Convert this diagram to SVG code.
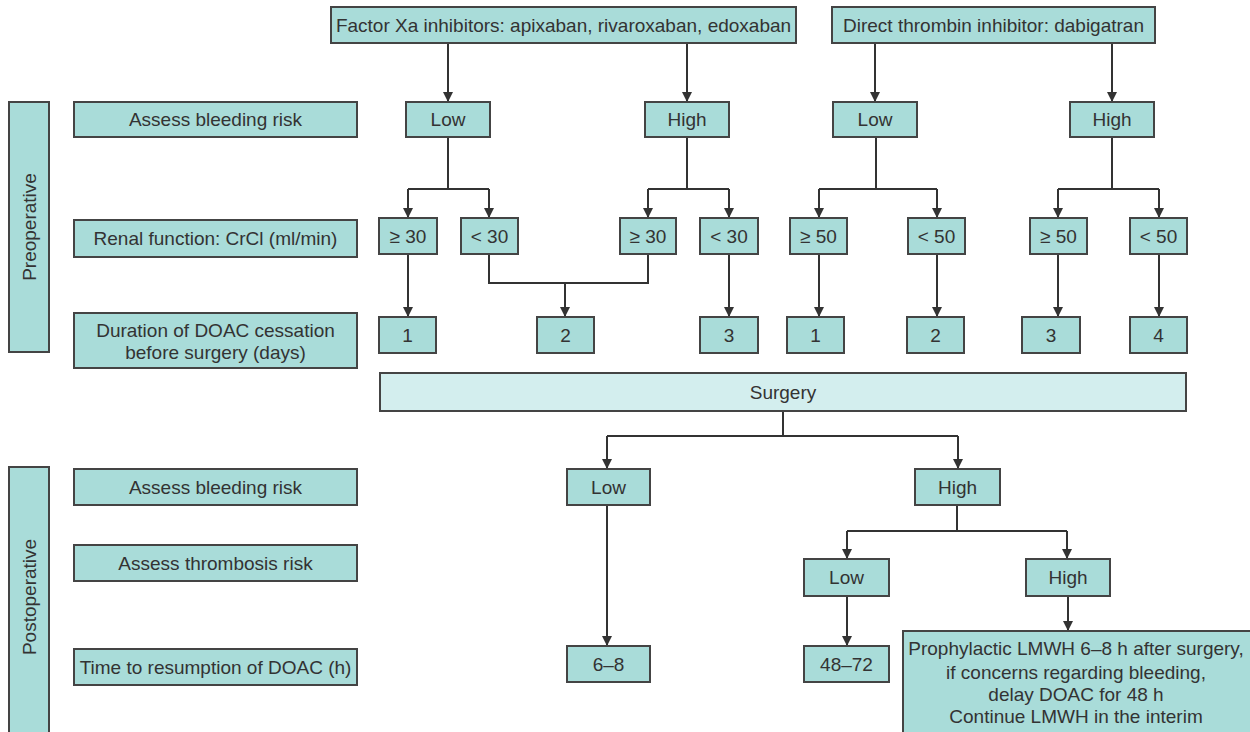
<svg xmlns="http://www.w3.org/2000/svg" width="1250" height="732" viewBox="0 0 1250 732">
<defs>
<marker id="ah" viewBox="0 0 10 10" refX="10" refY="5" markerUnits="userSpaceOnUse" markerWidth="10" markerHeight="12" orient="auto">
<path d="M0,0 L10,5 L0,10 z" fill="#333"/>
</marker>
<style>
.b{fill:#a9dcd9;stroke:#444;stroke-width:2}
.s{fill:#d3eeee;stroke:#444;stroke-width:2}
.t{font-family:"Liberation Sans",Arial,sans-serif;font-size:19px;fill:#333;text-anchor:middle}
.c{fill:none;stroke:#333;stroke-width:2}
.a{fill:none;stroke:#333;stroke-width:2;marker-end:url(#ah)}
</style>
</defs>
<rect width="1250" height="732" fill="#fff"/>
<g id="connectors">
<path class="a" d="M448 43V102"/>
<path class="a" d="M687 43V102"/>
<path class="a" d="M875 43V102"/>
<path class="a" d="M1112 43V102"/>
<path class="c" d="M448 137V189M408 189H489"/>
<path class="a" d="M408 189V218"/>
<path class="a" d="M489 189V218"/>
<path class="c" d="M687 137V189M648 189H729"/>
<path class="a" d="M648 189V218"/>
<path class="a" d="M729 189V218"/>
<path class="c" d="M876 137V189M819 189H937"/>
<path class="a" d="M819 189V218"/>
<path class="a" d="M937 189V218"/>
<path class="c" d="M1112 137V189M1058 189H1159"/>
<path class="a" d="M1058 189V218"/>
<path class="a" d="M1159 189V218"/>
<path class="a" d="M408 254V317"/>
<path class="c" d="M489 254V283H648V254"/>
<path class="a" d="M565 283V317"/>
<path class="a" d="M729 254V317"/>
<path class="a" d="M819 254V317"/>
<path class="a" d="M937 254V317"/>
<path class="a" d="M1058 254V317"/>
<path class="a" d="M1159 254V317"/>
<path class="c" d="M783 411V436M607 436H958"/>
<path class="a" d="M607 436V469"/>
<path class="a" d="M958 436V469"/>
<path class="a" d="M607 505V646"/>
<path class="c" d="M957 505V531M847 531H1067"/>
<path class="a" d="M847 531V559"/>
<path class="a" d="M1067 531V559"/>
<path class="a" d="M847 596V646"/>
<path class="a" d="M1068 596V631"/>
</g>
<g id="side-pre"><rect class="b" x="9" y="102" width="40" height="250"/><text class="t" transform="translate(36 227) rotate(-90)">Preoperative</text></g>
<g id="side-post"><rect class="b" x="9" y="467" width="40" height="280"/><text class="t" transform="translate(36 597) rotate(-90)">Postoperative</text></g>
<g id="lbl-pre-bleed"><rect class="b" x="74" y="102" width="283" height="35"/><text class="t" x="215.5" y="126">Assess bleeding risk</text></g>
<g id="lbl-renal"><rect class="b" x="74" y="220" width="283" height="37"/><text class="t" x="215.5" y="245">Renal function: CrCl (ml/min)</text></g>
<g id="lbl-duration"><rect class="b" x="74" y="313" width="283" height="55"/><text class="t" x="215.5" y="337">Duration of DOAC cessation</text><text class="t" x="215.5" y="359">before surgery (days)</text></g>
<g id="lbl-post-bleed"><rect class="b" x="74" y="469" width="283" height="36"/><text class="t" x="215.5" y="494">Assess bleeding risk</text></g>
<g id="lbl-thromb"><rect class="b" x="74" y="545" width="283" height="36"/><text class="t" x="215.5" y="570">Assess thrombosis risk</text></g>
<g id="lbl-time"><rect class="b" x="74" y="649" width="283" height="36"/><text class="t" x="215.5" y="674">Time to resumption of DOAC (h)</text></g>
<g id="fxa"><rect class="b" x="331" y="7" width="465" height="36"/><text class="t" x="563.5" y="32">Factor Xa inhibitors: apixaban, rivaroxaban, edoxaban</text></g>
<g id="dti"><rect class="b" x="832" y="7" width="323" height="36"/><text class="t" x="993.5" y="32">Direct thrombin inhibitor: dabigatran</text></g>
<g id="fxa-low"><rect class="b" x="406" y="102" width="84" height="35"/><text class="t" x="448" y="126">Low</text></g>
<g id="fxa-high"><rect class="b" x="645" y="102" width="84" height="35"/><text class="t" x="687" y="126">High</text></g>
<g id="dti-low"><rect class="b" x="833" y="102" width="84" height="35"/><text class="t" x="875" y="126">Low</text></g>
<g id="dti-high"><rect class="b" x="1070" y="102" width="84" height="35"/><text class="t" x="1112" y="126">High</text></g>
<g id="r1"><rect class="b" x="379" y="218" width="58" height="36"/><text class="t" x="408" y="243">≥ 30</text></g>
<g id="r2"><rect class="b" x="461" y="218" width="57" height="36"/><text class="t" x="489.5" y="243">&lt; 30</text></g>
<g id="r3"><rect class="b" x="620" y="218" width="56" height="36"/><text class="t" x="648" y="243">≥ 30</text></g>
<g id="r4"><rect class="b" x="700" y="218" width="58" height="36"/><text class="t" x="729" y="243">&lt; 30</text></g>
<g id="r5"><rect class="b" x="790" y="218" width="57" height="36"/><text class="t" x="818.5" y="243">≥ 50</text></g>
<g id="r6"><rect class="b" x="908" y="218" width="57" height="36"/><text class="t" x="936.5" y="243">&lt; 50</text></g>
<g id="r7"><rect class="b" x="1030" y="218" width="57" height="36"/><text class="t" x="1058.5" y="243">≥ 50</text></g>
<g id="r8"><rect class="b" x="1130" y="218" width="57" height="36"/><text class="t" x="1158.5" y="243">&lt; 50</text></g>
<g id="d1"><rect class="b" x="379" y="317" width="57" height="36"/><text class="t" x="407.5" y="342">1</text></g>
<g id="d2"><rect class="b" x="537" y="317" width="57" height="36"/><text class="t" x="565.5" y="342">2</text></g>
<g id="d3"><rect class="b" x="700" y="317" width="58" height="36"/><text class="t" x="729" y="342">3</text></g>
<g id="d4"><rect class="b" x="787" y="317" width="57" height="36"/><text class="t" x="815.5" y="342">1</text></g>
<g id="d5"><rect class="b" x="907" y="317" width="57" height="36"/><text class="t" x="935.5" y="342">2</text></g>
<g id="d6"><rect class="b" x="1022" y="317" width="58" height="36"/><text class="t" x="1051" y="342">3</text></g>
<g id="d7"><rect class="b" x="1130" y="317" width="57" height="36"/><text class="t" x="1158.5" y="342">4</text></g>
<g id="surgery"><rect class="s" x="380" y="373" width="806" height="38"/><text class="t" x="783" y="399">Surgery</text></g>
<g id="post-low"><rect class="b" x="567" y="469" width="83" height="36"/><text class="t" x="608.5" y="494">Low</text></g>
<g id="post-high"><rect class="b" x="915" y="469" width="85" height="36"/><text class="t" x="957.5" y="494">High</text></g>
<g id="thr-low"><rect class="b" x="804" y="559" width="85" height="37"/><text class="t" x="846.5" y="584">Low</text></g>
<g id="thr-high"><rect class="b" x="1026" y="559" width="84" height="37"/><text class="t" x="1068" y="584">High</text></g>
<g id="res-68"><rect class="b" x="567" y="646" width="83" height="36"/><text class="t" x="608.5" y="671">6–8</text></g>
<g id="res-4872"><rect class="b" x="804" y="646" width="85" height="36"/><text class="t" x="846.5" y="671">48–72</text></g>
<g id="res-lmwh"><rect class="b" x="903" y="631" width="360" height="120"/><text class="t" x="1076" y="655">Prophylactic LMWH 6–8 h after surgery,</text><text class="t" x="1076" y="679">if concerns regarding bleeding,</text><text class="t" x="1076" y="701">delay DOAC for 48 h</text><text class="t" x="1076" y="723">Continue LMWH in the interim</text></g>
</svg>
